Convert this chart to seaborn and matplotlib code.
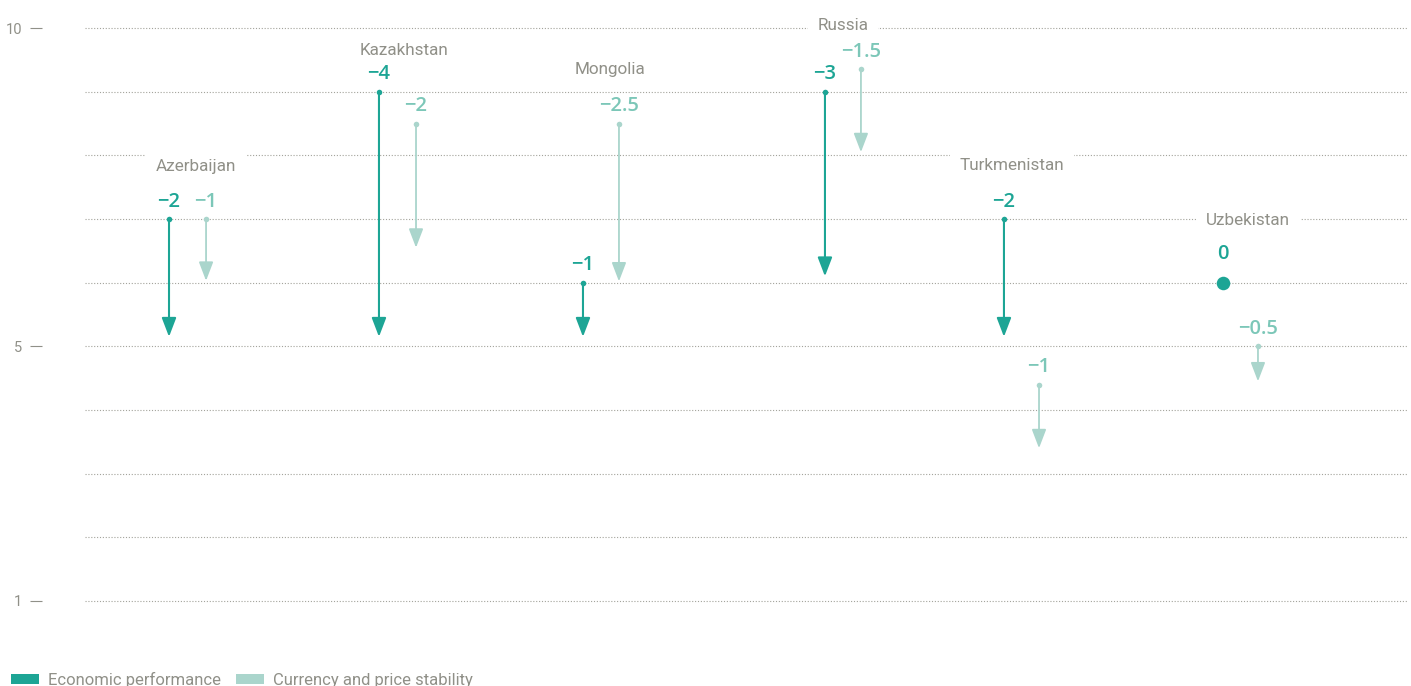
import matplotlib
matplotlib.use("Agg")
import matplotlib.pyplot as plt
import seaborn as sns
import pandas as pd
from matplotlib import font_manager
from matplotlib.patches import Patch

# ---------------- data ----------------
countries = ["Azerbaijan", "Kazakhstan", "Mongolia", "Russia", "Turkmenistan", "Uzbekistan"]
econ_start = [7.0, 9.0, 6.0, 9.0, 7.0, 6.0]
econ_end = [5.15, 5.15, 5.15, 6.1, 5.15, 6.0]
econ_change = ["−2", "−4", "−1", "−3", "−2", "0"]
curr_start = [7.0, 8.5, 8.5, 9.35, 4.4, 5.0]
curr_end = [6.03, 6.55, 6.02, 8.05, 3.4, 4.45]
curr_change = ["−1", "−2", "−2.5", "−1.5", "−1", "−0.5"]
series_names = ["Economic performance", "Currency and price stability"]
y_ticks = [1, 5, 10]

# ---------------- layout (not data) ----------------
x_econ = [6.35, 22.22, 37.64, 55.93, 69.46, 86.02]
x_curr = [9.15, 25.02, 40.36, 58.65, 72.11, 88.66]
x_label = [8.39, 24.11, 39.68, 57.29, 70.07, 87.91]
y_label = [7.75, 9.57, 9.27, 9.97, 7.77, 6.90]

ECON = "#1da595"
CURR = "#aad5cc"
CURR_TXT = "#7cc7b8"
GREY = "#909088"
GRID = "#a3a39b"

sns.set_theme(style="white")
names = {f.name for f in font_manager.fontManager.ttflist}
narrow = "Liberation Sans Narrow" if "Liberation Sans Narrow" in names else "Roboto"
plt.rcParams["font.family"] = [narrow, "DejaVu Sans"]
WEIGHT = "normal"

W, H = 1411, 686
fig = plt.figure(figsize=(W / 100, H / 100), dpi=100)
ax = fig.add_axes([85 / W, (H - 601) / H, (1408 - 85) / W, 573 / H])
ax.set_xlim(0, 100)
ax.set_ylim(1, 10)

# grid at every integer
ax.set_yticks(y_ticks)
ax.set_yticks([v for v in range(2, 10) if v not in y_ticks], minor=True)
ax.yaxis.grid(True, which="both", color=GRID, linestyle=(0, (1, 1.6)), linewidth=0.8)
ax.xaxis.grid(False)
ax.set_axisbelow(True)
for s in ax.spines.values():
    s.set_visible(False)
ax.spines["left"].set_position(("outward", 43 * 0.72))
ax.set_xticks([])
ax.tick_params(axis="y", which="major", left=True, length=8.6, width=0.8, color=GREY,
               pad=5.8, labelsize=10.5, labelcolor=GREY)
ax.tick_params(axis="y", which="minor", left=False, length=0)
ax.set_yticklabels([str(t) for t in y_ticks], fontweight=WEIGHT)

df_e = pd.DataFrame({"x": x_econ, "start": econ_start, "end": econ_end, "lab": econ_change})
df_c = pd.DataFrame({"x": x_curr, "start": curr_start, "end": curr_end, "lab": curr_change})

arrow_style = "-|>,head_length=11.5,head_width=4.4"

# arrows
for df, col, lw in [(df_e, ECON, 1.5), (df_c, CURR, 1.3)]:
    for _, r in df.iterrows():
        if abs(r["start"] - r["end"]) < 1e-9:
            continue
        ax.annotate("", xy=(r["x"], r["end"]), xytext=(r["x"], r["start"]),
                    arrowprops=dict(arrowstyle=arrow_style, color=col, lw=lw,
                                    shrinkA=0, shrinkB=0, mutation_scale=1),
                    zorder=3)

# start dots
moving_e = df_e[df_e["start"] != df_e["end"]]
still_e = df_e[df_e["start"] == df_e["end"]]
sns.scatterplot(data=moving_e, x="x", y="start", color=ECON, s=16, linewidth=0, ax=ax, zorder=4, legend=False)
sns.scatterplot(data=still_e, x="x", y="start", color=ECON, s=95, linewidth=0, ax=ax, zorder=4, legend=False)
sns.scatterplot(data=df_c, x="x", y="start", color=CURR, s=16, linewidth=0, ax=ax, zorder=4, legend=False)
ax.set_xlabel("")
ax.set_ylabel("")

# gridlines must not be clipped at the limits
for tk in ax.yaxis.get_major_ticks() + ax.yaxis.get_minor_ticks():
    tk.gridline.set_clip_on(False)

# change labels
val_font = dict(family=["Open Sans", "DejaVu Sans"], fontweight="semibold", fontsize=14.5)
for _, r in df_e.iterrows():
    off = 8.8 if r["start"] != r["end"] else 17
    ax.annotate(r["lab"], xy=(r["x"], r["start"]), xytext=(0, off), textcoords="offset points",
                ha="center", va="baseline", color=ECON, annotation_clip=False, **val_font)
for _, r in df_c.iterrows():
    ax.annotate(r["lab"], xy=(r["x"], r["start"]), xytext=(0, 8.8), textcoords="offset points",
                ha="center", va="baseline", color=CURR_TXT, annotation_clip=False, **val_font)

# country labels
for name, xl, yl in zip(countries, x_label, y_label):
    ax.text(xl, yl, name, ha="center", va="baseline", fontsize=12.3, fontweight=WEIGHT,
            color=GREY, zorder=2, clip_on=False,
            bbox=dict(facecolor="white", edgecolor="none", pad=7))

# legend
handles = [Patch(facecolor=ECON, edgecolor="none", label=series_names[0]),
           Patch(facecolor=CURR, edgecolor="none", label=series_names[1])]
leg = fig.legend(handles=handles, loc="lower left", bbox_to_anchor=(11 / W, -0.003), ncol=2,
                 frameon=False, borderpad=0, borderaxespad=0,
                 handlelength=1.7, handleheight=0.6, handletextpad=0.55, columnspacing=0.85,
                 prop=dict(weight=WEIGHT, size=12))
for t in leg.get_texts():
    t.set_color(GREY)

fig.savefig("out.png", dpi=100)
